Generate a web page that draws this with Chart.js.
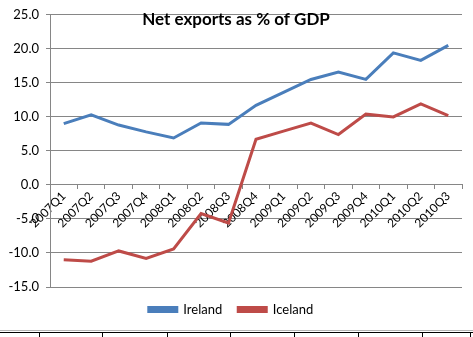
<!DOCTYPE html>
<html>
<head>
<meta charset="utf-8">
<script src="https://cdn.jsdelivr.net/npm/chart.js@4/dist/chart.umd.min.js"></script>
<style>
  body { margin: 0; background: #fff; }
  #wrap { position: relative; width: 473px; height: 337px; overflow: hidden; }
  #box { position: absolute; left: 0; top: 0; width: 473px; height: 330px; }
  #sheet { position: absolute; left: 0; top: 330px; width: 473px; height: 7px; border-top: 1px solid #b4b4b4; }
  #sheet .row { position: absolute; left: 0; top: 1px; width: 473px; border-top: 1px solid #000; }
  #sheet .col { position: absolute; top: 2px; width: 1px; height: 6px; background: #000; }
</style>
</head>
<body>
<div id="wrap">
  <div id="box"><canvas id="chart"></canvas></div>
  <div id="sheet"><div class="row"></div></div>
</div>
<script>
const quarters = ['2007Q1', '2007Q2', '2007Q3', '2007Q4', '2008Q1', '2008Q2', '2008Q3', '2008Q4',
  '2009Q1', '2009Q2', '2009Q3', '2009Q4', '2010Q1', '2010Q2', '2010Q3'];
const ireland = [9.0, 10.3, 8.8, 7.8, 6.9, 9.1, 8.9, 11.7, 13.6, 15.5, 16.6, 15.5, 19.4, 18.3, 20.5];
const iceland = [-11.0, -11.2, -9.7, -10.8, -9.4, -4.2, -5.6, 6.7, 7.9, 9.1, 7.4, 10.4, 10.0, 11.9, 10.2];
const titleText = 'Net exports as % of GDP';

// spreadsheet cell borders peeking in under the chart
[39, 102, 167, 230, 294, 358, 422, 470].forEach(x => {
  const d = document.createElement('div');
  d.className = 'col';
  d.style.left = x + 'px';
  document.getElementById('sheet').appendChild(d);
});

const gridGrey = '#868686';

// title sits inside the plot area, like Excel does it
const titleInPlot = {
  id: 'titleInPlot',
  afterDraw(chart) {
    const ctx = chart.ctx;
    ctx.save();
    ctx.font = 'bold 17px Lato';
    ctx.fillStyle = '#000';
    ctx.textAlign = 'center';
    ctx.textBaseline = 'middle';
    ctx.fillText(titleText, 236, 20);
    ctx.restore();
  }
};

new Chart(document.getElementById('chart'), {
  type: 'line',
  data: {
    labels: quarters,
    datasets: [
      { label: 'Ireland', data: ireland, borderColor: '#4a7ebb', backgroundColor: '#4a7ebb' },
      { label: 'Iceland', data: iceland, borderColor: '#be4b48', backgroundColor: '#be4b48' }
    ]
  },
  options: {
    responsive: true,
    maintainAspectRatio: false,
    animation: false,
    layout: { padding: { top: 13, right: 11, left: 0, bottom: 4 } },
    elements: {
      line: { borderWidth: 3, tension: 0 },
      point: { radius: 0 }
    },
    plugins: {
      title: { display: false },
      tooltip: { enabled: false },
      legend: {
        position: 'bottom',
        labels: {
          boxWidth: 28,
          boxHeight: 4,
          padding: 16,
          color: '#000',
          font: { family: 'Lato', size: 13 }
        }
      }
    },
    scales: {
      x: {
        position: { y: 0 },
        offset: true,
        grid: {
          offset: true,
          drawOnChartArea: false,
          drawTicks: true,
          tickLength: 4,
          color: gridGrey
        },
        border: { color: gridGrey },
        ticks: {
          autoSkip: false,
          minRotation: 45,
          maxRotation: 45,
          padding: 0,
          color: '#000',
          font: { family: 'Lato', size: 12 }
        }
      },
      y: {
        min: -15,
        max: 25,
        afterFit(scale) { scale.width = 50; },
        grid: { color: gridGrey, tickLength: 4 },
        border: { color: gridGrey },
        ticks: {
          stepSize: 5,
          padding: 7,
          color: '#000',
          font: { family: 'Lato', size: 13 },
          callback: v => v.toFixed(1)
        }
      }
    }
  },
  plugins: [titleInPlot]
});
</script>
</body>
</html>
